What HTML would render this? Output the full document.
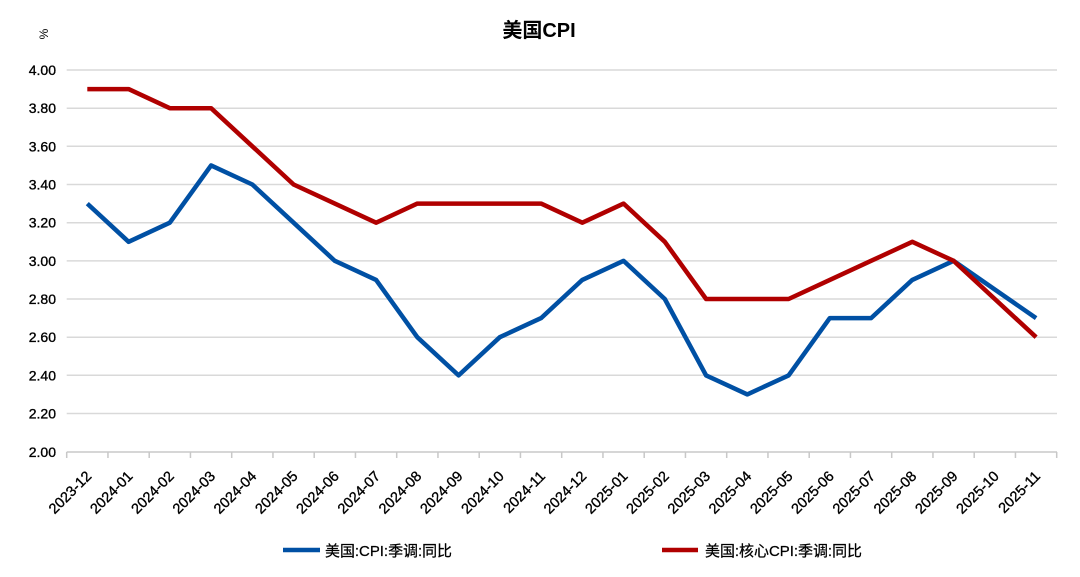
<!DOCTYPE html>
<html><head><meta charset="utf-8"><style>
html,body{margin:0;padding:0;background:#fff;}
svg{display:block;}
text{font-family:"Liberation Sans","Noto Sans CJK SC",sans-serif;fill:#000;}
</style></head><body>
<svg width="1080" height="577" viewBox="0 0 1080 577" xmlns="http://www.w3.org/2000/svg">
<rect width="1080" height="577" fill="#fff"/>
<text x="539" y="37" text-anchor="middle" font-size="20" font-weight="bold">美国CPI</text>
<text x="0" y="0" font-size="12" text-anchor="middle" transform="translate(48,34) rotate(-90)">%</text>
<g stroke="#d9d9d9" stroke-width="1.5">
<line x1="66.7" x2="1057" y1="70" y2="70"/>
<line x1="66.7" x2="1057" y1="108.2" y2="108.2"/>
<line x1="66.7" x2="1057" y1="146.3" y2="146.3"/>
<line x1="66.7" x2="1057" y1="184.5" y2="184.5"/>
<line x1="66.7" x2="1057" y1="222.7" y2="222.7"/>
<line x1="66.7" x2="1057" y1="260.85" y2="260.85"/>
<line x1="66.7" x2="1057" y1="299" y2="299"/>
<line x1="66.7" x2="1057" y1="337.2" y2="337.2"/>
<line x1="66.7" x2="1057" y1="375.3" y2="375.3"/>
<line x1="66.7" x2="1057" y1="413.5" y2="413.5"/>
</g>
<g stroke="#c8c8c8" stroke-width="1.5">
<line x1="66.7" x2="1057" y1="452" y2="452"/>
<line x1="66.7" x2="66.7" y1="452" y2="458"/>
<line x1="107.95" x2="107.95" y1="452" y2="458"/>
<line x1="149.2" x2="149.2" y1="452" y2="458"/>
<line x1="190.45" x2="190.45" y1="452" y2="458"/>
<line x1="231.7" x2="231.7" y1="452" y2="458"/>
<line x1="272.95" x2="272.95" y1="452" y2="458"/>
<line x1="314.2" x2="314.2" y1="452" y2="458"/>
<line x1="355.45" x2="355.45" y1="452" y2="458"/>
<line x1="396.7" x2="396.7" y1="452" y2="458"/>
<line x1="437.95" x2="437.95" y1="452" y2="458"/>
<line x1="479.2" x2="479.2" y1="452" y2="458"/>
<line x1="520.45" x2="520.45" y1="452" y2="458"/>
<line x1="561.7" x2="561.7" y1="452" y2="458"/>
<line x1="602.95" x2="602.95" y1="452" y2="458"/>
<line x1="644.2" x2="644.2" y1="452" y2="458"/>
<line x1="685.45" x2="685.45" y1="452" y2="458"/>
<line x1="726.7" x2="726.7" y1="452" y2="458"/>
<line x1="767.95" x2="767.95" y1="452" y2="458"/>
<line x1="809.2" x2="809.2" y1="452" y2="458"/>
<line x1="850.45" x2="850.45" y1="452" y2="458"/>
<line x1="891.7" x2="891.7" y1="452" y2="458"/>
<line x1="932.95" x2="932.95" y1="452" y2="458"/>
<line x1="974.2" x2="974.2" y1="452" y2="458"/>
<line x1="1015.45" x2="1015.45" y1="452" y2="458"/>
<line x1="1056.7" x2="1056.7" y1="452" y2="458"/>
</g>
<g font-size="14" text-anchor="end" stroke="#000" stroke-width="0.35">
<text x="56" y="75">4.00</text>
<text x="56" y="113.2">3.80</text>
<text x="56" y="151.3">3.60</text>
<text x="56" y="189.5">3.40</text>
<text x="56" y="227.7">3.20</text>
<text x="56" y="265.85">3.00</text>
<text x="56" y="304">2.80</text>
<text x="56" y="342.2">2.60</text>
<text x="56" y="380.3">2.40</text>
<text x="56" y="418.5">2.20</text>
<text x="56" y="457">2.00</text>
</g>
<g font-size="14.5" text-anchor="end" stroke="#000" stroke-width="0.35">
<text transform="translate(92.3,477) rotate(-45)">2023-12</text>
<text transform="translate(133.6,477) rotate(-45)">2024-01</text>
<text transform="translate(174.8,477) rotate(-45)">2024-02</text>
<text transform="translate(216.1,477) rotate(-45)">2024-03</text>
<text transform="translate(257.3,477) rotate(-45)">2024-04</text>
<text transform="translate(298.6,477) rotate(-45)">2024-05</text>
<text transform="translate(339.8,477) rotate(-45)">2024-06</text>
<text transform="translate(381.1,477) rotate(-45)">2024-07</text>
<text transform="translate(422.3,477) rotate(-45)">2024-08</text>
<text transform="translate(463.6,477) rotate(-45)">2024-09</text>
<text transform="translate(504.8,477) rotate(-45)">2024-10</text>
<text transform="translate(546.1,477) rotate(-45)">2024-11</text>
<text transform="translate(587.3,477) rotate(-45)">2024-12</text>
<text transform="translate(628.6,477) rotate(-45)">2025-01</text>
<text transform="translate(669.8,477) rotate(-45)">2025-02</text>
<text transform="translate(711.1,477) rotate(-45)">2025-03</text>
<text transform="translate(752.3,477) rotate(-45)">2025-04</text>
<text transform="translate(793.6,477) rotate(-45)">2025-05</text>
<text transform="translate(834.8,477) rotate(-45)">2025-06</text>
<text transform="translate(876.1,477) rotate(-45)">2025-07</text>
<text transform="translate(917.3,477) rotate(-45)">2025-08</text>
<text transform="translate(958.6,477) rotate(-45)">2025-09</text>
<text transform="translate(999.8,477) rotate(-45)">2025-10</text>
<text transform="translate(1041.1,477) rotate(-45)">2025-11</text>
</g>
<polyline fill="none" stroke="#0050a4" stroke-width="4.5" stroke-linejoin="round" stroke-linecap="butt"
points="87.3,203.6 128.6,241.8 169.8,222.7 211.1,165.4 252.3,184.5 293.6,222.7 334.8,260.85 376.1,279.9 417.3,337.2 458.6,375.4 499.8,337.2 541.1,318.1 582.3,279.9 623.6,260.85 664.8,299 706.1,375.4 747.3,394.4 788.6,375.4 829.8,318.1 871.1,318.1 912.3,279.9 953.6,260.85 994.8,289.5 1036.1,318.1"/>
<polyline fill="none" stroke="#b00000" stroke-width="4.5" stroke-linejoin="round" stroke-linecap="butt"
points="87.3,89.1 128.6,89.1 169.8,108.2 211.1,108.2 252.3,146.3 293.6,184.5 334.8,203.6 376.1,222.7 417.3,203.6 458.6,203.6 499.8,203.6 541.1,203.6 582.3,222.7 623.6,203.6 664.8,241.8 706.1,299 747.3,299 788.6,299 829.8,279.9 871.1,260.85 912.3,241.8 953.6,260.85 994.8,299 1036.1,337.2"/>
<line x1="283" x2="320" y1="550" y2="550" stroke="#0050a4" stroke-width="4.5"/>
<text x="325" y="556" font-size="15" textLength="127" lengthAdjust="spacingAndGlyphs" stroke="#000" stroke-width="0.25">美国:CPI:季调:同比</text>
<line x1="662" x2="698" y1="550" y2="550" stroke="#b00000" stroke-width="4.5"/>
<text x="705" y="556" font-size="15" textLength="157" lengthAdjust="spacingAndGlyphs" stroke="#000" stroke-width="0.25">美国:核心CPI:季调:同比</text>
</svg>
</body></html>
